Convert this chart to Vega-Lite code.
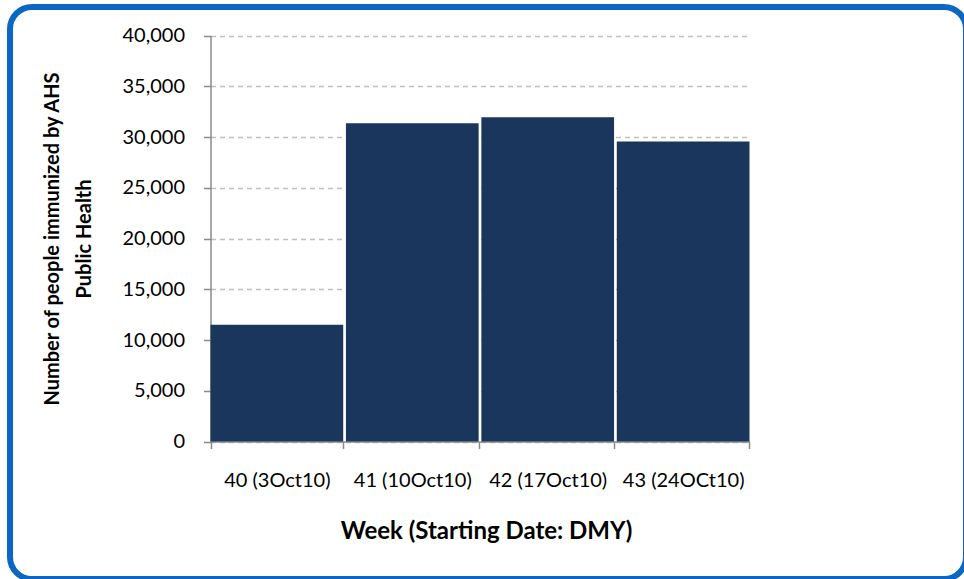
{
  "$schema": "https://vega.github.io/schema/vega-lite/v6.json",
  "width": 956,
  "height": 572,
  "autosize": {"type": "none"},
  "padding": {"left": 10, "top": 7, "right": 0, "bottom": 0},
  "background": "white",
  "config": {
    "view": {"stroke": "#0a67c4", "strokeWidth": 6, "cornerRadius": 22, "fill": "white"},
    "font": "Lato"
  },
  "data": {
    "values": [
      {"week": "40 (3Oct10)", "people": 11500},
      {"week": "41 (10Oct10)", "people": 31350},
      {"week": "42 (17Oct10)", "people": 31950},
      {"week": "43 (24OCt10)", "people": 29550}
    ]
  },
  "mark": {"type": "bar", "color": "#1a365d"},
  "encoding": {
    "x": {
      "field": "week",
      "type": "nominal",
      "sort": null,
      "scale": {"range": [200.5, 739.5], "paddingInner": 0.02, "paddingOuter": 0},
      "axis": {
        "title": "Week (Starting Date: DMY)",
        "orient": "bottom",
        "offset": -137.5,
        "labelAngle": 0,
        "tickBand": "extent",
        "tickSize": 7,
        "tickColor": "#8a8a8a",
        "tickWidth": 1.5,
        "domainColor": "#8a8a8a",
        "domainWidth": 1.5,
        "labelPadding": 22,
        "labelFont": "Lato",
        "labelFontSize": 20,
        "labelColor": "#000000",
        "titleFont": "Lato",
        "titleFontSize": 24,
        "titleFontWeight": "bold",
        "titleColor": "#000000",
        "titlePadding": 29,
        "titleX": 476
      }
    },
    "y": {
      "field": "people",
      "type": "quantitative",
      "scale": {"domain": [0, 40000], "range": [434.5, 28.5], "nice": false},
      "axis": {
        "title": ["Number of people immunized by AHS", "Public Health"],
        "orient": "left",
        "offset": -200.5,
        "values": [0, 5000, 10000, 15000, 20000, 25000, 30000, 35000, 40000],
        "format": ",d",
        "grid": true,
        "gridDash": [5, 4],
        "gridColor": "#c0c0c0",
        "gridWidth": 1.5,
        "tickSize": 7,
        "tickColor": "#8a8a8a",
        "tickWidth": 1.5,
        "domainColor": "#8a8a8a",
        "domainWidth": 1.5,
        "labelPadding": 19,
        "labelFont": "Lato",
        "labelFontSize": 20,
        "labelColor": "#000000",
        "titleFont": "Lato",
        "titleFontSize": 20,
        "titleFontWeight": "bold",
        "titleColor": "#000000",
        "titleLineHeight": 32,
        "titlePadding": 27
      }
    }
  }
}
